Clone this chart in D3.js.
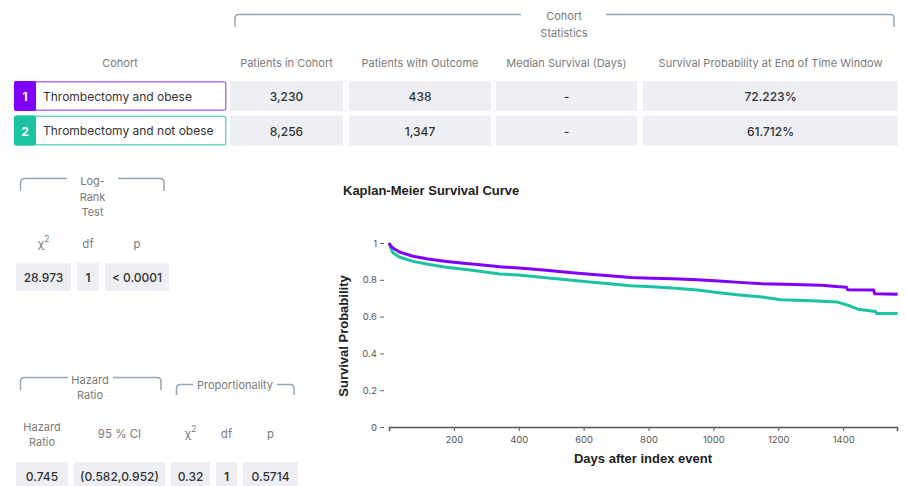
<!DOCTYPE html>
<html>
<head>
<meta charset="utf-8">
<script src="https://cdn.jsdelivr.net/npm/d3@7"></script>
<style>
  body { margin: 0; background: #fff; }
  svg { display: block; }
</style>
</head>
<body>
<svg id="chart" width="906" height="486"></svg>
<script>
// ---- data ----
var cohorts = ["Thrombectomy and obese", "Thrombectomy and not obese"]
var statHeaders = ["Patients in Cohort", "Patients with Outcome", "Median Survival (Days)", "Survival Probability at End of Time Window"]
var patientsInCohort = [3230, 8256]
var patientsWithOutcome = [438, 1347]
var medianSurvival = ["-", "-"]
var survivalAtEnd = [72.223, 61.712]

var logRankHeaders = ["χ2", "df", "p"]
var logRankValues = ["28.973", "1", "< 0.0001"]

var hazardHeaders = ["Hazard Ratio", "95 % CI", "χ2", "df", "p"]
var hazardValues = ["0.745", "(0.582,0.952)", "0.32", "1", "0.5714"]

// Kaplan-Meier curves (late steps kept as pairs)
var obeseDays = [0, 5, 12, 32, 74, 120, 177, 230, 280, 342, 400, 476, 540, 610, 680, 744, 810, 873, 950, 1017, 1080, 1150, 1250, 1332, 1380, 1410, 1414, 1494, 1497, 1568]
var obeseSurv = [1, 0.985, 0.973, 0.951, 0.928, 0.913, 0.9, 0.89, 0.882, 0.871, 0.864, 0.853, 0.843, 0.832, 0.822, 0.812, 0.808, 0.806, 0.8, 0.793, 0.786, 0.778, 0.774, 0.77, 0.763, 0.76, 0.746, 0.745, 0.724, 0.722]
var notObeseDays = [0, 5, 12, 32, 74, 120, 177, 230, 280, 342, 400, 476, 540, 610, 680, 744, 810, 873, 950, 1017, 1080, 1150, 1208, 1300, 1383, 1424, 1445, 1500, 1503, 1568]
var notObeseSurv = [1, 0.975, 0.947, 0.924, 0.9, 0.884, 0.868, 0.857, 0.846, 0.832, 0.826, 0.812, 0.801, 0.79, 0.779, 0.768, 0.762, 0.755, 0.744, 0.73, 0.718, 0.706, 0.692, 0.686, 0.679, 0.656, 0.64, 0.628, 0.617, 0.617]

var xTicks = [200, 400, 600, 800, 1000, 1200, 1400]
var yTicks = [0, 0.2, 0.4, 0.6, 0.8, 1]

var colors = ["#8000ff", "#1cc3a2"]
var borders = ["#b070ff", "#6fd9c2"]

var font = "Inter, 'Open Sans', sans-serif"
var cellFill = "#edeff4"
var bracketColor = "#93a6b5"
var headColor = "#7a7a7a"

var svg = d3.select("#chart")

// bracket with a gap for its label
function bracket(x1, x2, top, bottom, gap1, gap2) {
    var r = 4
    var g = svg.append("g").attr("fill", "none").attr("stroke", bracketColor).attr("stroke-width", 1.5)
    g.append("path").attr("d", `M${x1},${bottom} V${top + r} Q${x1},${top} ${x1 + r},${top} H${gap1}`)
    g.append("path").attr("d", `M${gap2},${top} H${x2 - r} Q${x2},${top} ${x2},${top + r} V${bottom}`)
}

function label(x, y, lines, size, color, step) {
    var t = svg.append("text")
        .attr("x", x).attr("y", y)
        .attr("text-anchor", "middle")
        .attr("dominant-baseline", "central")
        .style("font-family", font)
        .style("font-size", size + "px")
        .attr("fill", color)
    lines.forEach(function (l, i) {
        var ts = t.append("tspan").attr("x", x).attr("dy", i === 0 ? 0 : step)
        if (l === "χ2") {
            ts.text("χ")
            t.append("tspan").attr("dy", -5).style("font-size", (size - 3) + "px").text("2")
        } else ts.text(l)
    })
    return t
}

function cell(x, y, w, h, text, bold) {
    svg.append("rect").attr("x", x).attr("y", y).attr("width", w).attr("height", h).attr("fill", cellFill)
    label(x + w / 2, y + h / 2, [text], 12, "#333", 0).style("font-weight", bold ? 600 : 500)
}

// ---- cohort statistics table ----
bracket(235, 894, 14.5, 27, 521, 606)
label(564, 16, ["Cohort", "Statistics"], 11, headColor, 16.5)

label(120, 63, ["Cohort"], 11, headColor, 0)
var statCols = [[230, 113], [349, 142], [496, 141], [643, 255]]
statHeaders.forEach(function (h, i) {
    label(statCols[i][0] + statCols[i][1] / 2, 63, [h], 11, headColor, 0)
})

var rowY = [81, 115.5]
var fmt = d3.format(",")
cohorts.forEach(function (c, i) {
    var y = rowY[i], h = 30
    svg.append("rect").attr("x", 14.75).attr("y", y + 0.75).attr("width", 211).attr("height", h - 1.5)
        .attr("fill", "#fff").attr("stroke", borders[i]).attr("stroke-width", 1.5).attr("rx", 2)
    svg.append("rect").attr("x", 14).attr("y", y).attr("width", 22).attr("height", h).attr("fill", colors[i]).attr("rx", 2)
    label(25, y + h / 2, [String(i + 1)], 12, "#fff", 0).style("font-weight", 700)
    svg.append("text").attr("x", 43).attr("y", y + h / 2)
        .attr("dominant-baseline", "central")
        .style("font-family", font).style("font-size", "12px").attr("fill", "#333")
        .text(c)
    var vals = [fmt(patientsInCohort[i]), fmt(patientsWithOutcome[i]), medianSurvival[i], survivalAtEnd[i].toFixed(3) + "%"]
    vals.forEach(function (v, j) {
        cell(statCols[j][0], y, statCols[j][1], h, v)
    })
})

// ---- log-rank test ----
bracket(20.5, 164, 178.5, 191, 67, 118)
label(92.5, 181, ["Log-", "Rank", "Test"], 11, headColor, 15.5)
var lrCols = [[16, 55], [77, 22], [105, 64]]
logRankHeaders.forEach(function (h, i) {
    label(lrCols[i][0] + lrCols[i][1] / 2, 244, [h], 11.5, headColor, 0)
    cell(lrCols[i][0], 263, lrCols[i][1], 28, logRankValues[i], i === 1)
})

// ---- hazard ratio / proportionality ----
bracket(20.5, 161, 377.5, 390, 68, 113)
label(90, 379.5, ["Hazard", "Ratio"], 11, headColor, 15)
bracket(176.5, 294, 384.5, 395, 193, 277)
label(235, 384.5, ["Proportionality"], 11, headColor, 0)
var hrCols = [[16, 52], [74, 91], [171, 39], [216, 21], [243, 55]]
hazardHeaders.forEach(function (h, i) {
    if (i === 0) label(42, 427, ["Hazard", "Ratio"], 11, headColor, 14.5)
    else label(hrCols[i][0] + hrCols[i][1] / 2, 434, [h], 11.5, headColor, 0)
    cell(hrCols[i][0], 462, hrCols[i][1], 28, hazardValues[i], i === 3)
})

// ---- Kaplan-Meier plot ----
var xScale = d3.scaleLinear().domain([0, 1566]).range([389, 897])
var yScale = d3.scaleLinear().domain([0, 1]).range([427, 243])

svg.append("text").attr("x", 343).attr("y", 190)
    .attr("dominant-baseline", "central")
    .style("font-family", "'Liberation Sans', Arial, sans-serif")
    .style("font-size", "13px").style("font-weight", "bold").attr("fill", "#222")
    .text("Kaplan-Meier Survival Curve")

var yAxis = svg.append("g")
    .attr("transform", "translate(384,0)")
    .call(d3.axisLeft(yScale).tickValues(yTicks).tickFormat(d3.format("~g")).tickSize(4).tickPadding(3))
yAxis.select(".domain").remove()
yAxis.selectAll("line").attr("stroke", "#666")
yAxis.selectAll("text").style("font-family", font).style("font-size", "9.5px").attr("fill", "#555")

var xAxis = svg.append("g")
    .attr("transform", "translate(0,427)")
    .call(d3.axisBottom(xScale).tickValues(xTicks).tickFormat(d3.format("d")).tickSize(4).tickSizeOuter(4).tickPadding(5))
xAxis.select(".domain").attr("stroke", "#555").attr("stroke-width", 1.5)
xAxis.selectAll("line").attr("stroke", "#555")
xAxis.selectAll("text").style("font-family", font).style("font-size", "9.5px").attr("fill", "#555")

svg.append("text").attr("x", 643).attr("y", 458)
    .attr("text-anchor", "middle").attr("dominant-baseline", "central")
    .style("font-family", "'Liberation Sans', Arial, sans-serif")
    .style("font-size", "13px").style("font-weight", "bold").attr("fill", "#222")
    .text("Days after index event")

svg.append("text")
    .attr("transform", "translate(343,336) rotate(-90)")
    .attr("text-anchor", "middle").attr("dominant-baseline", "central")
    .style("font-family", "'Liberation Sans', Arial, sans-serif")
    .style("font-size", "13px").style("font-weight", "bold").attr("fill", "#222")
    .text("Survival Probability")

var line = d3.line()
    .x(d => xScale(d[0]))
    .y(d => yScale(d[1]))

var curves = [d3.zip(notObeseDays, notObeseSurv), d3.zip(obeseDays, obeseSurv)]
var curveColors = [colors[1], colors[0]]
svg.append("g").selectAll("path")
    .data(curves)
    .enter()
    .append("path")
    .attr("d", line)
    .attr("fill", "none")
    .attr("stroke", (d, i) => curveColors[i])
    .attr("stroke-width", 3)
    .attr("stroke-linejoin", "round")
</script>
</body>
</html>
